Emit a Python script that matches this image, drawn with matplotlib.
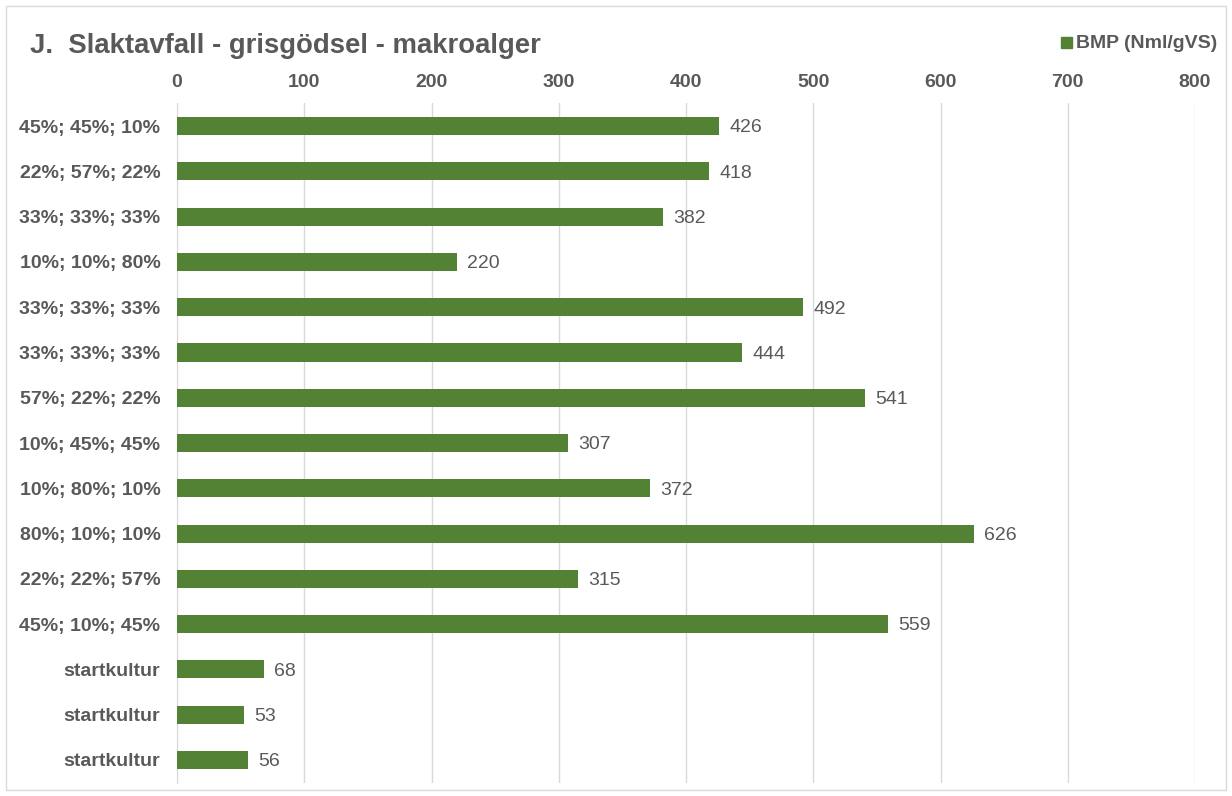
import matplotlib.pyplot as plt
from matplotlib.patches import Rectangle

plt.rcParams['font.family'] = ['Liberation Sans', 'DejaVu Sans']

categories = ['45%; 45%; 10%', '22%; 57%; 22%', '33%; 33%; 33%', '10%; 10%; 80%',
              '33%; 33%; 33%', '33%; 33%; 33%', '57%; 22%; 22%', '10%; 45%; 45%',
              '10%; 80%; 10%', '80%; 10%; 10%', '22%; 22%; 57%', '45%; 10%; 45%',
              'startkultur', 'startkultur', 'startkultur']
bmp = [426, 418, 382, 220, 492, 444, 541, 307, 372, 626, 315, 559, 68, 53, 56]
xticks = [0, 100, 200, 300, 400, 500, 600, 700, 800]

green = '#548235'
grey = '#595959'

fig = plt.figure(figsize=(12.32, 7.96), dpi=100)
ax = fig.add_axes([0.1437, 0.0168, 0.8263, 0.8532])

pos = list(range(len(bmp)))
ax.barh(pos, bmp, height=0.4, color=green, zorder=3)
for y, v in zip(pos, bmp):
    ax.text(v + 8, y + 0.04, str(v), va='center', ha='left', fontsize=14, color=grey)

ax.set_xlim(0, 800)
ax.set_ylim(len(bmp) - 0.5, -0.5)
ax.set_xticks(xticks)
ax.set_yticks(pos)
ax.set_yticklabels(categories, fontsize=14, fontweight='bold', color=grey)
ax.xaxis.tick_top()
ax.tick_params(axis='x', length=0, pad=9, labelsize=14, labelcolor=grey)
ax.tick_params(axis='y', length=0, pad=12)
for lab in ax.get_xticklabels():
    lab.set_fontweight('bold')
ax.grid(axis='x', color='#d9d9d9', linewidth=1, zorder=0)
for side in ['top', 'right', 'bottom']:
    ax.spines[side].set_visible(False)
ax.spines['left'].set_color('#d9d9d9')

fig.text(30 / 1232, 1 - 46 / 796, 'J.  Slaktavfall - grisgödsel - makroalger',
         fontsize=19.8, fontweight='bold', color=grey, va='center', ha='left')

# legend entry in the top right corner
fig.patches.append(Rectangle((1061 / 1232, 1 - 48 / 796), 11 / 1232, 11 / 796,
                             transform=fig.transFigure, color=green))
fig.text(1076 / 1232, 1 - 43 / 796, 'BMP (Nml/gVS)', fontsize=14,
         fontweight='bold', color=grey, va='center', ha='left')

# outer chart border
fig.patches.append(Rectangle((6 / 1232, 6 / 796), 1220 / 1232, 784 / 796,
                             transform=fig.transFigure, fill=False,
                             edgecolor='#d9d9d9', linewidth=1))

fig.savefig('out.png', dpi=100)
